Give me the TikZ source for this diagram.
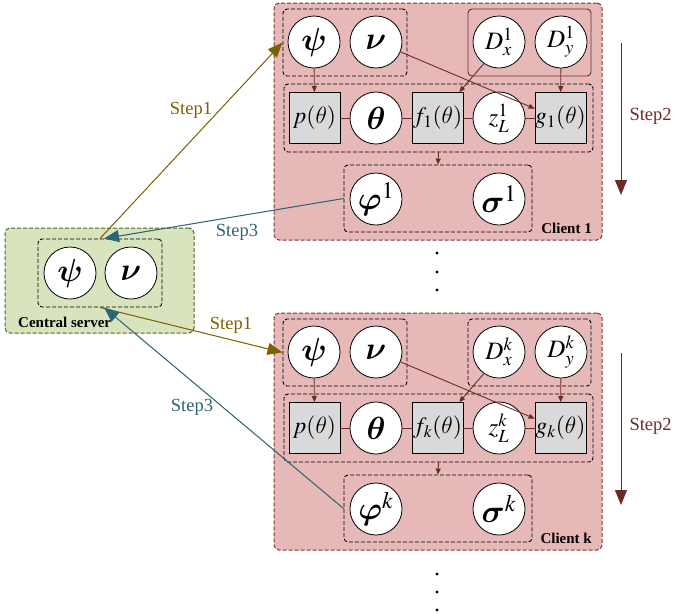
\RequirePackage{fix-cm}
\documentclass[tikz,border=0pt]{standalone}
\usepackage{mathptmx}
\DeclareSymbolFont{cmgreek}{OML}{cmm}{b}{it}
\DeclareSymbolFont{cmgreekm}{OML}{cmm}{m}{it}
\DeclareMathSymbol{\psi}{\mathord}{cmgreek}{"20}
\DeclareMathSymbol{\nu}{\mathord}{cmgreek}{"17}
\DeclareMathSymbol{\theta}{\mathord}{cmgreek}{"12}
\DeclareMathSymbol{\thetam}{\mathord}{cmgreekm}{"12}
\DeclareMathSymbol{\varphi}{\mathord}{cmgreek}{"27}
\DeclareMathSymbol{\sigma}{\mathord}{cmgreek}{"1B}
\usepackage[no-math]{fontspec}
\setmainfont{Liberation Serif}
\usetikzlibrary{arrows.meta,calc}
\definecolor{pinkfill}{HTML}{E6B9B8}
\definecolor{pinkedge}{HTML}{7A3534}
\definecolor{darkred}{HTML}{6E2A28}
\definecolor{greenfill}{HTML}{D7E4BD}
\definecolor{greenedge}{HTML}{4F6228}
\definecolor{olivec}{HTML}{7F6000}
\definecolor{tealc}{HTML}{2C6475}
\definecolor{facgray}{HTML}{D9D9D9}
\tikzset{
  var/.style={circle,draw,fill=white,minimum size=52pt,inner sep=0pt,line width=0.8pt,font=\fontsize{32}{34}\selectfont},
  smallvar/.style={var,font=\fontsize{25}{27}\selectfont},
  fac/.style={rectangle,draw,fill=facgray,minimum size=51pt,inner sep=0pt,line width=0.8pt,font=\fontsize{23.5}{26}\selectfont},
  dbox/.style={draw,dash pattern=on 4pt off 2pt,rounded corners=4pt,line width=0.9pt,inner sep=0pt},
  sbox/.style={draw=darkred,rounded corners=4pt,line width=0.9pt,inner sep=0pt},
  clientbox/.style={draw=pinkedge,fill=pinkfill,dash pattern=on 4pt off 2pt,rounded corners=5pt,line width=1pt,inner sep=0pt},
  serverbox/.style={draw=greenedge,fill=greenfill,dash pattern=on 4pt off 2pt,rounded corners=5pt,line width=1pt,inner sep=0pt},
  rline/.style={draw=darkred,line width=0.9pt},
  rarr/.style={rline,-{Triangle[length=6pt,width=5pt]}},
  bigarr/.style={line width=1pt,-{Triangle[length=15pt,width=12pt]}},
  steplabel/.style={font=\fontsize{18.5}{20}\selectfont},
  boxlabel/.style={font=\bfseries\fontsize{15}{17}\selectfont,inner sep=0pt}
}
\newcommand\clientblock[5]{%
\begin{scope}[shift={(0,#2)}]
\node[clientbox,minimum width=328pt,minimum height=237pt] (cl#1) at (438,121.5) {};
\node[dbox,minimum width=124pt,minimum height=67pt] (pb#1) at (345,42.5) {};
\node[#4,minimum width=123pt,minimum height=67pt] (db#1) at (529.5,42.5) {};
\node[dbox,minimum width=309pt,minimum height=68pt] (rb#1) at (438.5,118) {};
\node[dbox,minimum width=188pt,minimum height=67pt] (lb#1) at (438,198.5) {};
\node[var] (psi#1) at (314,42) {$\psi$};
\node[var] (nu#1) at (376,42) {$\nu$};
\node[smallvar] (Dx#1) at (499,42) {$D_x^{#3}$};
\node[smallvar] (Dy#1) at (561,42) {$D_y^{#3}$};
\node[fac] (p#1) at (314.5,118) {$p(\thetam)$};
\node[var] (th#1) at (376,118) {$\theta$};
\node[fac] (f#1) at (437.5,118) {$f_{#3}(\thetam)$};
\node[smallvar] (z#1) at (499,118) {$z_L^{#3}$};
\node[fac] (g#1) at (560.5,118) {$g_{#3}(\thetam)$};
\node[var] (phi#1) at (376,199) {$\varphi^{#3}$};
\node[var] (sig#1) at (499,199) {$\sigma^{#3}$};
\node[boxlabel,anchor=base east] (lab#1) at (592,233) {#5};
\draw[rline] (p#1) -- (th#1) -- (f#1) -- (z#1) -- (g#1);
\draw[rarr] (psi#1) -- (p#1);
\draw[rarr] (Dy#1) -- (g#1);
\draw[rarr] (Dx#1.235) -- (f#1.50);
\draw[rarr] (nu#1.-22) -- (g#1.160);
\draw[rarr] (rb#1.south) -- (lb#1.north);
\coordinate (s2a#1) at (621,43);
\coordinate (s2b#1) at (621,195);
\draw[bigarr,draw=darkred,fill=darkred] (s2a#1) -- (s2b#1);
\node[steplabel,text=darkred,anchor=west] (s2l#1) at (626,116) {Step2};
\end{scope}}
\begin{document}
\begin{tikzpicture}[x=1pt,y=-1pt]
\useasboundingbox (0,0) rectangle (673,614);
\clientblock{1}{0}{1}{sbox}{Client 1}
\clientblock{k}{310}{k}{dbox}{Client k}
% central server
\node[serverbox,minimum width=189pt,minimum height=105pt] (server) at (99.5,280.5) {};
\node[dbox,minimum width=124pt,minimum height=68pt] (cs) at (100,273) {};
\node[var] (cpsi) at (70,273) {$\psi$};
\node[var] (cnu) at (131,273) {$\nu$};
\node[boxlabel,anchor=base west] (slab) at (18,327) {Central server};
% dots
\foreach \yy in {253,272,290,574,592,610} \fill (437,\yy) circle (1.7pt);
% steps
\draw[bigarr,draw=olivec,fill=olivec] (cs.north) -- (pb1.west);
\draw[bigarr,draw=tealc,fill=tealc] (lb1.west) -- ([xshift=4pt]cs.north);
\draw[bigarr,draw=olivec,fill=olivec] (cs.south) -- (pbk.west);
\draw[bigarr,draw=tealc,fill=tealc] (lbk.west) -- ([xshift=4pt]cs.south);
\node[steplabel,text=olivec] (st1a) at (191,110) {Step1};
\node[steplabel,text=tealc] (st3a) at (237,232) {Step3};
\node[steplabel,text=olivec] (st1b) at (231,325) {Step1};
\node[steplabel,text=tealc] (st3b) at (192,407) {Step3};
\end{tikzpicture}
\end{document}
